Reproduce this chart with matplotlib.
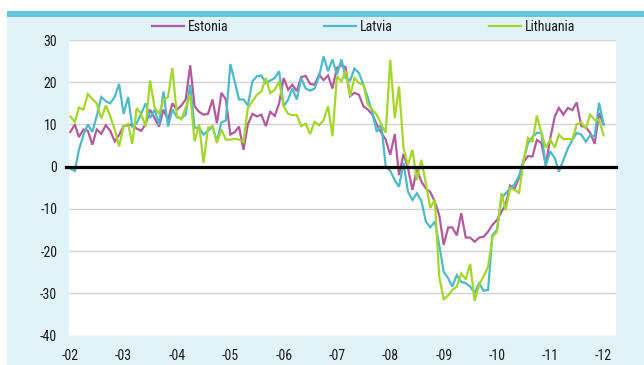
import matplotlib
matplotlib.use("Agg")
import matplotlib.pyplot as plt
import pandas as pd
from matplotlib import font_manager
from matplotlib.patches import Rectangle

# Monthly series, Jan 2002 - Jan 2012
months = pd.date_range("2002-01-01", periods=121, freq="MS")

estonia = [
    8.2, 10, 7, 8.8, 8.5, 5.2, 8.8, 7.8, 9.8, 8.5, 6, 7.5,
    9.6, 9.8, 10, 9, 8.5, 10, 13.5, 11.5, 9.5, 13.5, 11, 15,
    13.5, 14.5, 15.9, 24, 14.3, 13, 12.3, 12.5, 15.9, 10.3, 17.5, 15.9,
    7.6, 8.2, 9.5, 4, 10, 12.5, 11.9, 12.3, 9.6, 13, 12, 15,
    21, 18.2, 19.4, 17.9, 21.2, 21.5, 19.6, 19.4, 21.8, 20.5, 21.6, 18.5,
    23.4, 24, 23.5, 16.7, 17.5, 17, 14.3, 13.5, 12.3, 10, 8, 6.4,
    2.8, 7.7, -2, 3, -0.3, -5.5, -0.7, -3.5, -5.2, -6, -8.3, -11.4,
    -18.5, -14.4, -14.4, -16.3, -11, -16.8, -16.8, -17.8, -16.8, -16.6, -15.4, -13.8,
    -12.6, -10.7, -9, -4.5, -5.3, -2.6, 1, 2.5, 2.4, 6.3, 5.6, 0.4,
    6.8, 11.9, 13.9, 12.3, 13.9, 13.4, 15.2, 9.6, 9.4, 8, 5.4, 12.7,
    10,
]

latvia = [
    -0.5, -1, 4, 7.5, 10, 8.2, 12, 16.5, 15.5, 15, 16.5, 19.6,
    12.5, 16.5, 9.5, 10.3, 12.5, 15, 11.5, 13.5, 10, 17.8, 9.5, 13.5,
    11.7, 11.5, 12.3, 19.4, 9.2, 9.2, 7.6, 8.5, 9.5, 6, 10.5, 10.9,
    24.3, 20, 15.9, 15.9, 14.5, 20.2, 21.4, 21.6, 19.8, 20.4, 21, 22.6,
    14.3, 15.9, 18.5, 15.9, 21, 18.5, 18, 18.5, 21.4, 26.1, 22.6, 25.4,
    21.8, 25.4, 21, 20.4, 23.2, 22.2, 19.4, 16.3, 12.7, 8.2, 10, 0,
    -1, -3.2, -4.8, 0.9, -5.9, -7.9, -6.3, -8.1, -13, -14.4, -13, -18.5,
    -24.9, -26.5, -28.4, -25.7, -27.3, -27.6, -28.4, -29.9, -27.6, -29.4, -29.2, -16.2,
    -15, -7.5, -6.3, -5.2, -4.2, -2.2, 1.5, 5.5, 7, 8, 8, 0.2,
    3.6, 2, -1.2, 1.6, 4.3, 6.3, 8, 7.6, 5.9, 7.4, 7.2, 15.1,
    10,
]

lithuania = [
    11.9, 10.6, 14, 13.5, 17.2, 16, 15, 11.4, 14.5, 12, 8.8, 4.8,
    9.5, 10.1, 5.4, 13.9, 12.5, 9.5, 20.4, 14, 12.5, 15.8, 16.5, 23.4,
    12, 11.2, 14, 17, 6, 10, 0.9, 9.2, 9.5, 5.6, 8.8, 6.4,
    6.4, 6.6, 6.4, 5.8, 13.9, 15.5, 17, 17.8, 21, 17.4, 18.2, 20.2,
    14.3, 12.5, 12.2, 12.2, 9.6, 10.2, 7.7, 10.6, 9.8, 11, 14.3, 7.2,
    21.4, 20.2, 22.7, 16.7, 21, 19.8, 19.4, 14.7, 13.5, 12.3, 10, 8,
    25.3, 11.5, 19, 4.4, 0.4, 4, -3.2, 1.6, -4, -9.8, -7.8, -26,
    -31.4, -30.5, -29.2, -28.4, -25.3, -26.7, -23, -31.8, -28, -26, -23.7, -16.7,
    -15.4, -6.3, -10.3, -5.1, -5.5, -6.2, 1, 6.8, 6, 12.1, 8, 4.5,
    6.4, 4.5, 7.6, 6.5, 6.6, 6.4, 10, 10.5, 9, 12.3, 11.1, 11.1,
    7.4,
]

series_names = ["Estonia", "Latvia", "Lithuania"]
series_colors = ["#b25b9c", "#4fb9c9", "#a5d62b"]

year_ticks = pd.date_range("2002-01-01", "2012-01-01", freq="YS")
year_labels = ["-02", "-03", "-04", "-05", "-06", "-07", "-08", "-09", "-10", "-11", "-12"]
y_ticks = [30, 20, 10, 0, -10, -20, -30, -40]

# Pick a narrow sans if one is installed
available = {f.name for f in font_manager.fontManager.ttflist}
family = "DejaVu Sans"
for cand in ["Liberation Sans Narrow", "DejaVu Sans Condensed", "Roboto Condensed",
             "Liberation Sans"]:
    if cand in available:
        family = cand
        break
plt.rcParams["font.family"] = [family, "DejaVu Sans"]

W, H = 644, 365
fig = plt.figure(figsize=(W / 100, H / 100), dpi=100, facecolor="white")

# Panel background and top band, drawn beneath the axes
fig.patches.append(Rectangle((7 / W, 0), 1, 1 - 11 / H, transform=fig.transFigure,
                             facecolor="#e1f3f8", edgecolor="none", zorder=-10))
fig.patches.append(Rectangle((7 / W, 1 - 17 / H), 1, 6 / H, transform=fig.transFigure,
                             facecolor="#63c7dc", edgecolor="none", zorder=-9))

ax = fig.add_axes([69 / W, 1 - 335.5 / H, (616 - 69) / W, (335.5 - 40) / H])
ax.set_facecolor("white")

for name, vals, col in zip(series_names, [estonia, latvia, lithuania], series_colors):
    ax.plot(months, vals, color=col, lw=1.6, label=name, zorder=4,
            solid_joinstyle="miter")

ax.axhline(0, xmin=-0.006, xmax=1, color="black", lw=2.3, zorder=5, clip_on=False)

ax.set_ylim(-40, 30)
ax.set_yticks(y_ticks)
ax.set_yticklabels([str(v) for v in y_ticks])
ax.set_xticks(year_ticks)
ax.set_xticklabels(year_labels)
ax.set_xlim(months[0] - pd.Timedelta(days=9), months[-1] + pd.Timedelta(days=85))

ax.grid(axis="y", color="#d3d3d3", lw=1.0, zorder=1)
ax.grid(axis="x", visible=False)
for s in ax.spines.values():
    s.set_visible(False)
ax.tick_params(axis="both", length=0, labelsize=10, colors="#1a1a1a")
ax.tick_params(axis="y", pad=8.5)
ax.tick_params(axis="x", pad=10)

leg = ax.legend(loc="center", bbox_to_anchor=(363.5 / W, 1 - 27 / H),
                bbox_transform=fig.transFigure, ncol=3, frameon=False,
                fontsize=10, handlelength=2.3, handletextpad=0.3,
                columnspacing=6.9, borderpad=0)
for t in leg.get_texts():
    t.set_color("#1a1a1a")

fig.savefig("out.png", dpi=100, facecolor=fig.get_facecolor())
